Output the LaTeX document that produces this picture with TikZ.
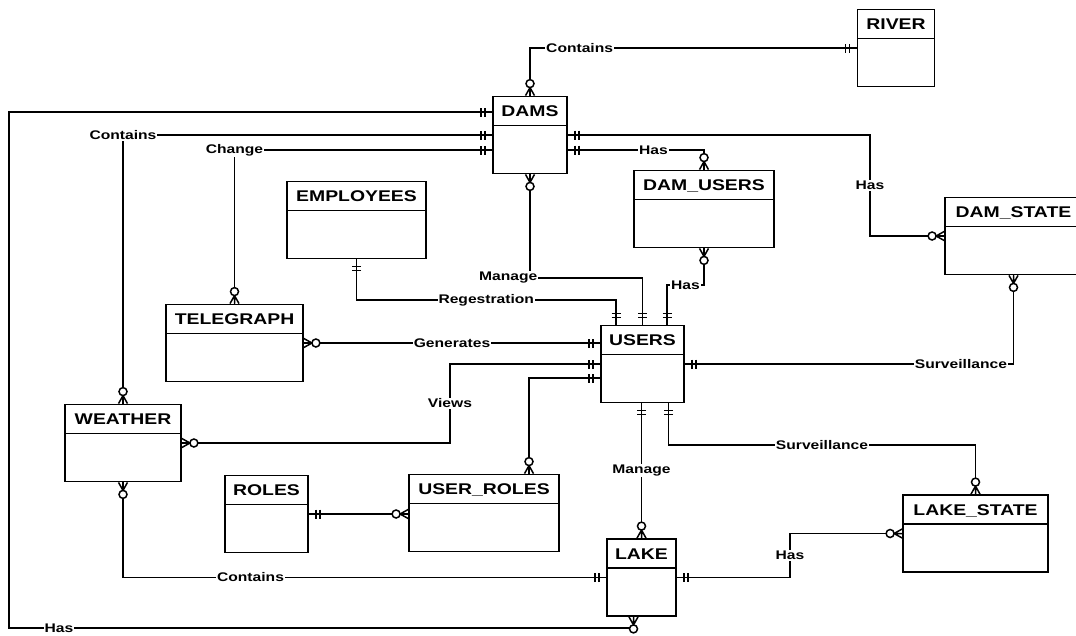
\documentclass[tikz,border=0pt]{standalone}
\usepackage{fontspec}
\setmainfont{Liberation Sans}
\newfontfamily\erfont[FakeStretch=1.25]{Liberation Sans}
\usetikzlibrary{calc}
\tikzset{
  every picture/.style={line width=1.5pt},
  entity/.style={draw, fill=white, line width=1.8pt, inner sep=0pt, text height=20pt, text depth=57pt,
    font=\erfont\bfseries\fontsize{15.5}{16}\selectfont,
    path picture={\draw[line width=1.5pt] ([yshift=-29pt]path picture bounding box.north west) -- ([yshift=-29pt]path picture bounding box.north east);}},
  lbl/.style={fill=white, inner sep=1pt, font=\erfont\bfseries\fontsize{12.5}{13}\selectfont},
  mark line/.style={line width=1.5pt},
  onemark/.pic={\draw[mark line] (7,-4.5) -- (7,4.5) (11,-4.5) -- (11,4.5);},
  zmmark/.pic={\draw[mark line] (0,-4.5) -- (8,0) -- (0,4.5) (0,0) -- (8,0);
               \draw[mark line, fill=white] (12,0) circle (4);},
}
\begin{document}
\begin{tikzpicture}[x=1pt, y=-1pt]
  \useasboundingbox (0,0) rectangle (1076,635);
  \clip (0,0) rectangle (1076,635);
  \fill[white] (0,0) rectangle (1076,635);
  % entities
  \node[entity, minimum width=77pt]  (river)      at (896,48)     {RIVER};
  \node[entity, minimum width=74pt]  (dams)       at (530,135)    {DAMS};
  \node[entity, minimum width=140pt] (dam_users)  at (704,209)    {DAM\_USERS};
  \node[entity, minimum width=137pt] (dam_state)  at (1013.5,236) {DAM\_STATE};
  \node[entity, minimum width=139pt] (employees)  at (356.5,220)  {EMPLOYEES};
  \node[entity, minimum width=137pt] (telegraph)  at (234.5,343)  {TELEGRAPH};
  \node[entity, minimum width=116pt] (weather)    at (123,443)    {WEATHER};
  \node[entity, minimum width=83pt]  (roles)      at (266.5,514)  {ROLES};
  \node[entity, minimum width=150pt] (user_roles) at (484,513)    {USER\_ROLES};
  \node[entity, minimum width=83pt]  (users)      at (642.5,364)  {USERS};
  \node[entity, minimum width=69pt]  (lake)       at (641.5,577.5){LAKE};
  \node[entity, minimum width=145pt] (lake_state) at (975.5,533.5){LAKE\_STATE};
  % attach points off the anchors
  \coordinate (dw1) at ([yshift=23pt]dams.west);
  \coordinate (dw3) at ([yshift=-15pt]dams.west);
  \coordinate (de2) at ([yshift=-15pt]dams.east);
  \coordinate (un1) at ([xshift=-26.5pt]users.north);
  \coordinate (un3) at ([xshift=24.5pt]users.north);
  \coordinate (uw1) at (telegraph.east -| users.west);
  \coordinate (uw3) at ([yshift=-14pt]users.west);
  \coordinate (us1) at (lake.north |- users.south);
  \coordinate (us2) at ([xshift=26pt]users.south);
  \coordinate (urn) at ([xshift=45pt]user_roles.north);
  \coordinate (urw) at (roles.east -| user_roles.west);
  \coordinate (ls)  at ([xshift=-8pt]lake.south);
  % relationships
  \draw (dams.north) |- node[lbl, pos=0.576] {Contains} (river.west);
  \draw (dw1) -| (9,628) -| node[lbl, pos=0.04] {Has} (ls);
  \draw (dams.west) -| node[lbl, pos=0.5] {Contains} (weather.north);
  \draw (dw3) -| node[lbl, pos=0.5] {Change} (telegraph.north);
  \draw (dams.east) -- (870,135) |- node[lbl, pos=0.25] {Has} (dam_state.west);
  \draw (de2) -| node[lbl, pos=0.314] {Has} (dam_users.north);
  \draw (dams.south) -- node[lbl, pos=1, anchor=east, xshift=9pt] {Manage} (530,278) -| (users.north);
  \draw (employees.south) |- node[lbl, pos=0.75] {Regestration} (616,300) -- (un1);
  \draw (dam_users.south) |- node[lbl, pos=0.75] {Has} (667,285) -- (un3);
  \draw (telegraph.east) -- node[lbl] {Generates} (uw1);
  \draw (weather.east) -| node[lbl, pos=0.75] {Views} (450,364) -- (users.west);
  \draw (urn) |- (uw3);
  \draw (roles.east) -- (urw);
  \draw (users.east) -| node[lbl, pos=0.42] {Surveillance} (dam_state.south);
  \draw (us1) -- node[lbl] {Manage} (lake.north);
  \draw (us2) |- node[lbl, pos=0.75] {Surveillance} (975.5,445) -- (lake_state.north);
  \draw (lake.east) -| node[lbl, pos=0.75] {Has} (790,533.5) -- (lake_state.west);
  \draw (weather.south) |- node[lbl, pos=0.632] {Contains} (lake.west);
  % cardinality marks
  \foreach \r/\p in {90/dams.north, 270/ls, 90/weather.north, 90/telegraph.north, 180/dam_state.west,
                     90/dam_users.north, 270/dams.south, 270/dam_users.south, 0/telegraph.east, 0/weather.east,
                     90/urn, 180/urw, 270/dam_state.south, 90/lake.north, 90/lake_state.north,
                     180/lake_state.west, 270/weather.south}
    \pic[rotate=\r] at (\p) {zmmark};
  \foreach \r/\p in {180/river.west, 180/dw1, 180/dams.west, 180/dw3, 0/dams.east, 0/de2,
                     90/users.north, 90/un1, 270/employees.south, 90/un3, 180/uw1, 180/users.west,
                     180/uw3, 0/roles.east, 0/users.east, 270/us1, 270/us2, 0/lake.east, 180/lake.west}
    \pic[rotate=\r] at (\p) {onemark};
\end{tikzpicture}
\end{document}
